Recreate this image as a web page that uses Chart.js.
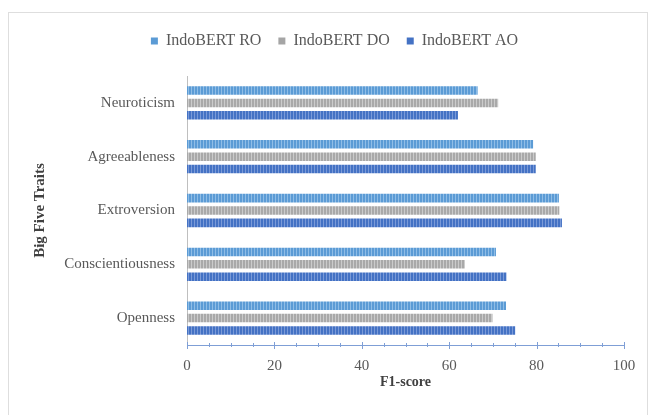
<!DOCTYPE html>
<html>
<head>
<meta charset="utf-8">
<script src="https://cdn.jsdelivr.net/npm/chart.js@4/dist/chart.umd.min.js"></script>
<style>
  html, body { margin: 0; padding: 0; background: #fff; }
  #wrap { position: relative; width: 649px; height: 415px; overflow: hidden; }
  #frame { position: absolute; left: 8px; top: 12px; width: 640px; height: 410px; border: 1px solid #dedede; box-sizing: border-box; }
  #c { position: absolute; left: 0; top: 0; }
</style>
</head>
<body>
<div id="wrap">
  <div id="frame"></div>
  <canvas id="c" width="649" height="415"></canvas>
</div>
<script>
// Big Five traits, top to bottom
const traits = ['Neuroticism', 'Agreeableness', 'Extroversion', 'Conscientiousness', 'Openness'];
const seriesNames = ['IndoBERT RO', 'IndoBERT DO', 'IndoBERT AO'];
// F1-scores per trait
const f1RO = [66.5, 79.2, 85.1, 70.7, 73.0];
const f1DO = [71.2, 79.8, 85.2, 63.6, 69.9];
const f1AO = [62.0, 79.8, 85.8, 73.1, 75.1];
const xTicks = [0, 20, 40, 60, 80, 100];
const minorStep = 5;

const FONT = "'Liberation Serif', 'Times New Roman', serif";

// Vertical-stripe fill used by each bar
function stripes(base, light) {
  const p = document.createElement('canvas');
  p.width = 3; p.height = 4;
  const g = p.getContext('2d');
  g.fillStyle = base; g.fillRect(0, 0, 3, 4);
  g.fillStyle = light; g.fillRect(2, 0, 1, 4);
  return g.createPattern(p, 'repeat');
}
const ctx = document.getElementById('c').getContext('2d');
const fills = [
  stripes('#5b9bd5', '#8fbde6'),
  stripes('#a9a9a9', '#cbcbcb'),
  stripes('#4472c4', '#7a9ad8')
];
const solid = ['#5b9bd5', '#a5a5a5', '#4472c4'];
const values = [f1RO, f1DO, f1AO];

// Extra space between the legend row and the plot
const legendGap = {
  id: 'legendGap',
  beforeLayout(chart) {
    const lg = chart.legend;
    if (lg && !lg._gapAdded) {
      const fit = lg.fit.bind(lg);
      lg.fit = function () { fit(); this.height += 17; };
      lg._gapAdded = true;
    }
  }
};

// Small axis tick marks: long at labelled values, short at every 5
const tickMarks = {
  id: 'tickMarks',
  afterDraw(chart) {
    const s = chart.scales.x;
    const y = chart.chartArea.bottom;
    const g = chart.ctx;
    g.save();
    g.strokeStyle = '#7f9fd6';
    g.lineWidth = 1;
    for (let v = s.min; v <= s.max; v += minorStep) {
      const x = Math.round(s.getPixelForValue(v)) + 0.5;
      const major = xTicks.includes(v);
      g.beginPath();
      g.moveTo(x, y - (major ? 3 : 2));
      g.lineTo(x, y + (major ? 4 : 2));
      g.stroke();
    }
    g.restore();
  }
};

new Chart(ctx, {
  type: 'bar',
  data: {
    labels: traits,
    datasets: seriesNames.map((name, i) => ({
      label: name,
      data: values[i],
      backgroundColor: fills[i],
      borderWidth: 0,
      categoryPercentage: 0.69,
      barPercentage: 0.69
    }))
  },
  options: {
    indexAxis: 'y',
    responsive: false,
    animation: false,
    layout: { padding: { left: 26, right: 6, top: 16, bottom: 0 } },
    plugins: {
      tooltip: { enabled: false },
      legend: {
        position: 'top',
        labels: {
          font: { family: FONT, size: 16 },
          color: '#595959',
          boxWidth: 7,
          boxHeight: 7,
          padding: 17,
          generateLabels(chart) {
            return seriesNames.map((n, i) => ({
              text: n, fillStyle: solid[i], strokeStyle: solid[i], lineWidth: 0,
              datasetIndex: i, fontColor: '#595959'
            }));
          }
        }
      }
    },
    scales: {
      x: {
        min: 0, max: 100,
        afterBuildTicks(scale) { scale.ticks = xTicks.map(v => ({ value: v })); },
        afterFit(scale) { scale.paddingRight = 25; scale.paddingLeft = 0; scale.height = 70; },
        grid: { display: false, drawTicks: false },
        border: { display: true, color: '#7f9fd6', width: 1 },
        ticks: { font: { family: FONT, size: 15 }, color: '#595959', padding: 12, maxRotation: 0 },
        title: {
          display: true, text: 'F1-score',
          font: { family: FONT, size: 14, weight: 'bold' }, color: '#404040',
          padding: { top: 0, bottom: 24 }
        }
      },
      y: {
        afterFit(scale) { scale.width = 161; scale.paddingTop = 0; scale.paddingBottom = 0; },
        grid: { display: false, drawTicks: false },
        border: { display: true, color: '#bfbfbf', width: 1 },
        ticks: { font: { family: FONT, size: 15 }, color: '#595959', padding: 12 },
        title: {
          display: true, text: 'Big Five Traits',
          font: { family: FONT, size: 15, weight: 'bold' }, color: '#404040',
          padding: { top: 5, bottom: 0 }
        }
      }
    }
  },
  plugins: [legendGap, tickMarks]
});
</script>
</body>
</html>
